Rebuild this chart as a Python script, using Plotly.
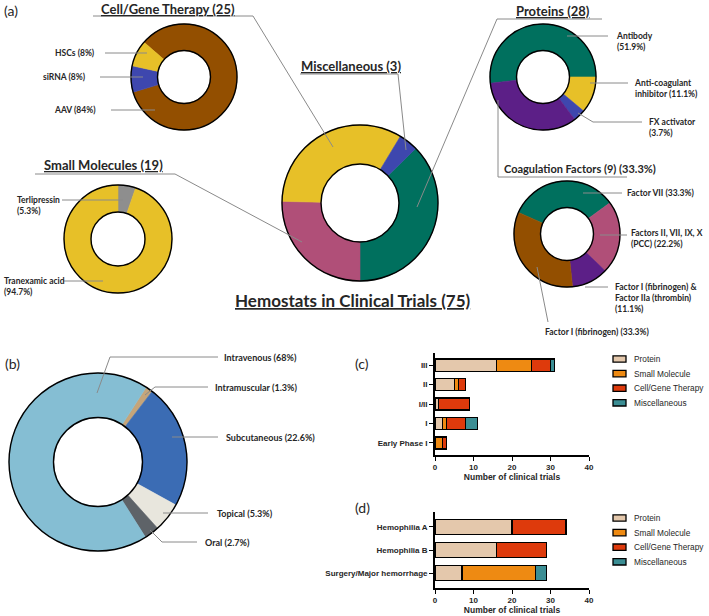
import plotly.graph_objects as go

W, H = 709, 616

# ---------------- data ----------------
overview_labels = ["Proteins", "Small Molecules", "Cell/Gene Therapy", "Miscellaneous"]
overview_values = [28, 19, 25, 3]

cgt_labels = ["AAV", "siRNA", "HSCs"]
cgt_values = [84, 8, 8]

protein_labels = ["Antibody", "Anti-coagulant inhibitor", "FX activator", "Coagulation Factors"]
protein_values = [51.9, 11.1, 3.7, 33.3]

coag_labels = ["Factor VII", "Factors II, VII, IX, X (PCC)",
               "Factor I (fibrinogen) & Factor IIa (thrombin)", "Factor I (fibrinogen)"]
coag_values = [33.3, 22.2, 11.1, 33.3]

small_labels = ["Terlipressin", "Tranexamic acid"]
small_values = [5.3, 94.7]

route_labels = ["Intramuscular", "Subcutaneous", "Topical", "Oral", "Intravenous"]
route_values = [1.3, 22.6, 5.3, 2.7, 68]

phases = ["Early Phase I", "I", "I/II", "II", "III"]
c_protein = [0, 2, 1, 5, 16]
c_small = [2, 1, 0, 1, 9]
c_cgt = [1, 5, 8, 2, 5]
c_misc = [0, 3, 0, 0, 1]

indications = ["Surgery/Major hemorrhage", "Hemophilia B", "Hemophilia A"]
d_protein = [7, 16, 20]
d_small = [19, 0, 0]
d_cgt = [0, 13, 14]
d_misc = [3, 0, 0]

series_names = ["Protein", "Small Molecule", "Cell/Gene Therapy", "Miscellaneous"]

# ---------------- styles ----------------
TEAL, PINK, YELLOW, BLUE = "#00705E", "#B04F78", "#E7C028", "#3E47AE"
BROWN, PURPLE, GRAY = "#934F00", "#5C1F87", "#8E8E8E"
ROUTE_COLORS = ["#C5A57A", "#3B6CB4", "#E8E6DD", "#5E6368", "#85BED3"]
BAR_COLORS = ["#E4C8AC", "#EE8A12", "#DE3A0C", "#3B8E94"]
LEAD = "#8A8A8A"
TXT = "#262626"


def X(px):
    return px / W


def Y(py):
    return 1 - py / H


fig = go.Figure()
shapes = []
annotations = []


def donut(labels, values, colors, cx, cy, r, rotation, hole=0.5):
    fig.add_trace(go.Pie(
        labels=labels, values=values, hole=hole, sort=False, direction="clockwise",
        rotation=rotation, textinfo="none", showlegend=False,
        marker=dict(colors=colors, line=dict(color=colors, width=0.6)),
        domain=dict(x=[X(cx - r), X(cx + r)], y=[Y(cy + r), Y(cy - r)]),
    ))
    for rr in (r, r * hole):
        shapes.append(dict(type="circle", xref="paper", yref="paper",
                           x0=X(cx - rr), x1=X(cx + rr), y0=Y(cy + rr), y1=Y(cy - rr),
                           line=dict(color="black", width=1.4)))


def line(*pts, color=LEAD, width=1):
    for (x0, y0), (x1, y1) in zip(pts[:-1], pts[1:]):
        shapes.append(dict(type="line", xref="paper", yref="paper",
                           x0=X(x0), y0=Y(y0), x1=X(x1), y1=Y(y1),
                           line=dict(color=color, width=width)))


def text(x, y, t, size=8.5, xanchor="left", bold=True, family="Lato"):
    annotations.append(dict(
        x=X(x), y=Y(y), xref="paper", yref="paper", text=t, showarrow=False,
        xanchor=xanchor, yanchor="middle", align=xanchor if xanchor != "center" else "center",
        font=dict(family=family, size=size, color=TXT, weight="bold" if bold else "normal"),
    ))


# ---------------- panel (a) ----------------
tot = sum(overview_values)
donut(overview_labels, overview_values, [TEAL, PINK, YELLOW, BLUE], 360, 203, 78,
      180 - overview_values[0] / tot * 360)
text(353, 300, "<u>Hemostats in Clinical Trials (75)</u>", size=17, xanchor="center")

# cell/gene therapy
donut(cgt_labels, cgt_values, [BROWN, BLUE, YELLOW], 184, 77, 53, 311)
text(168, 9, "<u>Cell/Gene Therapy (25)</u>", size=13, xanchor="center")
line((93, 16), (253, 16), (333, 147))
text(97, 53, "HSCs (8%)", xanchor="right")
line((105, 53), (147, 53))
text(88, 77, "siRNA (8%)", xanchor="right")
line((100, 77), (143, 77))
text(98, 110, "AAV (84%)", xanchor="right")
line((111, 110), (155, 110))

# miscellaneous
text(351, 66, "<u>Miscellaneous (3)</u>", size=13, xanchor="center")
line((300, 74), (398, 74), (406, 150))

# proteins
donut(protein_labels, protein_values, [TEAL, YELLOW, BLUE, PURPLE], 543, 77, 53,
      90 - protein_values[0] / 100 * 360)
text(553, 11, "<u>Proteins (28)</u>", size=13, xanchor="center")
line((602, 19), (497, 19), (417, 207))
text(614, 42, "Antibody<br>(51.9%)")
line((567, 36), (608, 36))
text(632, 89, "Anti-coagulant<br>inhibitor (11.1%)")
line((590, 83), (628, 83))
text(647, 127.5, "FX activator<br>(3.7%)")
line((578, 113), (593, 122), (642, 122))
line((498, 100), (498, 177), (627, 177))

# coagulation factors
donut(coag_labels, coag_values, [TEAL, PINK, PURPLE, BROWN], 567, 234, 53, 294)
text(580, 168, "Coagulation Factors (9) (33.3%)", size=11, xanchor="center")
text(625, 193, "Factor VII (33.3%)")
line((583, 193), (622, 193))
text(629, 238.5, "Factors II, VII, IX, X<br>(PCC) (22.2%)")
line((600, 235), (627, 235))
text(613, 298, "Factor I (fibrinogen) &<br>Factor IIa (thrombin)<br>(11.1%)")
line((585, 287), (608, 287))
text(597, 332, "Factor I (fibrinogen) (33.3%)", xanchor="center")
line((537, 267), (548, 322))

# small molecules
donut(small_labels, small_values, [GRAY, YELLOW], 118, 239, 54, 0)
text(103, 165, "<u>Small Molecules (19)</u>", size=13, xanchor="center")
line((35, 174), (175, 174), (302, 242))
text(15, 206, "Terlipressin<br>(5.3%)")
line((62, 200), (123, 200))
text(2, 287, "Tranexamic acid<br>(94.7%)")
line((63, 281), (103, 281))

text(2, 10, "(a)", size=14, bold=False)

# ---------------- panel (b) ----------------
donut(route_labels, route_values, ROUTE_COLORS, 98, 462, 89, 32.8)
text(3, 363, "(b)", size=14, bold=False)
text(222, 357, "Intravenous (68%)", size=9)
line((97, 393), (110, 357), (218, 357))
text(213, 387, "Intramuscular (1.3%)", size=9)
line((145, 395), (155, 387), (208, 387))
text(224, 437, "Subcutaneous (22.6%)", size=9)
line((172, 437), (218, 437))
text(215, 513, "Topical (5.3%)", size=9)
line((163, 513), (208, 513))
text(203, 542, "Oral (2.7%)", size=9)
line((150, 530), (162, 542), (197, 542))

# ---------------- panels (c) and (d) ----------------
for vals, name, col in zip([c_protein, c_small, c_cgt, c_misc], series_names, BAR_COLORS):
    fig.add_trace(go.Bar(y=phases, x=vals, name=name, orientation="h", width=0.62,
                         marker=dict(color=col, line=dict(color="black", width=1.2)),
                         xaxis="x", yaxis="y", showlegend=False))
for vals, name, col in zip([d_protein, d_small, d_cgt, d_misc], series_names, BAR_COLORS):
    fig.add_trace(go.Bar(y=indications, x=vals, name=name, orientation="h", width=0.65,
                         marker=dict(color=col, line=dict(color="black", width=1.2)),
                         xaxis="x2", yaxis="y2", showlegend=False))

# legend keys for (c) and (d)
for top in (359, 518):
    for i, (name, col) in enumerate(zip(series_names, BAR_COLORS)):
        yc = top + i * 14.6
        shapes.append(dict(type="rect", xref="paper", yref="paper",
                           x0=X(613), x1=X(626), y0=Y(yc + 3.2), y1=Y(yc - 3.2),
                           fillcolor=col, line=dict(color="black", width=1.3)))
        text(632, yc, name, size=8.3, bold=False, family="Arial")

text(353, 363, "(c)", size=14, bold=False)
text(353, 507, "(d)", size=14, bold=False)

axis_common = dict(showline=True, linecolor="black", linewidth=1.7, ticks="outside",
                   ticklen=4, tickwidth=1.3, tickcolor="black", showgrid=False, zeroline=False,
                   tickfont=dict(family="Arial", size=8, color=TXT, weight="bold"))
xcommon = dict(axis_common, range=[0, 40], dtick=10,
               title=dict(text="Number of clinical trials", standoff=3,
                          font=dict(family="Arial", size=8.5, color=TXT, weight="bold")))

fig.update_layout(
    width=W, height=H, margin=dict(l=0, r=0, t=0, b=0, autoexpand=False),
    paper_bgcolor="white", plot_bgcolor="white", barmode="stack", showlegend=False,
    font=dict(family="Lato", color=TXT),
    xaxis=dict(xcommon, domain=[X(435), X(589)], anchor="y"),
    yaxis=dict(axis_common, domain=[Y(455), Y(353)], anchor="x", type="category",
               categoryorder="array", categoryarray=phases, range=[-0.62, 4.62]),
    xaxis2=dict(xcommon, domain=[X(435), X(589)], anchor="y2"),
    yaxis2=dict(axis_common, domain=[Y(588), Y(512)], anchor="x2", type="category",
                categoryorder="array", categoryarray=indications, range=[-0.65, 2.65]),
    shapes=shapes, annotations=annotations,
)

fig.write_html("out.html", config={"displayModeBar": False},
               post_script="document.body.style.margin='0';document.body.style.overflow='hidden';")
